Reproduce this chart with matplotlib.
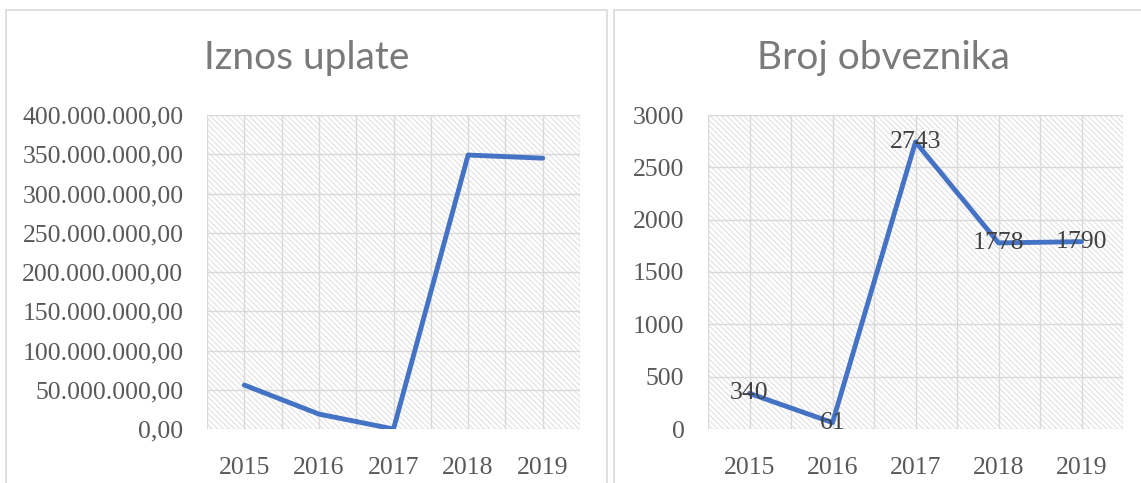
import matplotlib
matplotlib.use("Agg")
import matplotlib.pyplot as plt
from matplotlib.patches import Rectangle
from matplotlib.ticker import FuncFormatter

years = ["2015", "2016", "2017", "2018", "2019"]
iznos_uplate = [56_000_000, 19_000_000, 0, 349_000_000, 345_000_000]
broj_obveznika = [340, 61, 2743, 1778, 1790]

LINE = "#4472C4"
GRID = "#d9d9d9"
TEXT = "#595959"
SERIF = "Liberation Serif"
SANS = "Lato"

plt.rcParams["hatch.linewidth"] = 0.7


def eu_fmt(v, _pos):
    s = f"{v:,.2f}"
    return s.replace(",", "X").replace(".", ",").replace("X", ".")


def style_axes(ax, ymax, ystep):
    x = range(len(years))
    ax.set_xlim(-0.5, len(years) - 0.5)
    ax.set_ylim(0, ymax)
    ax.add_patch(Rectangle((0, 0), 1, 1, transform=ax.transAxes, facecolor="white",
                           edgecolor="#dedede", lw=0, hatch="\\" * 6, zorder=0))
    for gx in [i * 0.5 - 0.5 for i in range(2 * len(years) + 1)]:
        ax.axvline(gx, color=GRID, lw=1.0, zorder=1)
    gy = 0
    while gy <= ymax:
        ax.axhline(gy, color=GRID, lw=1.0, zorder=1)
        gy += ystep
    for s in ax.spines.values():
        s.set_visible(False)
    ax.set_xticks(list(x))
    ax.set_xticklabels(years)
    ax.set_yticks(range(0, ymax + 1, ystep))
    ax.tick_params(length=0, colors=TEXT, labelsize=18.5)
    ax.tick_params(axis="x", pad=20)
    for lab in ax.get_xticklabels() + ax.get_yticklabels():
        lab.set_fontfamily(SERIF)


fig = plt.figure(figsize=(11.41, 4.83), dpi=100)

# chart boxes
fig.add_artist(Rectangle((6 / 1141, -0.05), 601 / 1141, (483 - 10) / 483 + 0.05,
                         transform=fig.transFigure, fill=False, edgecolor=GRID, lw=1.2))
fig.add_artist(Rectangle((614 / 1141, -0.05), 540 / 1141, (483 - 10) / 483 + 0.05,
                         transform=fig.transFigure, fill=False, edgecolor=GRID, lw=1.2))

ax1 = fig.add_axes([207 / 1141, 54 / 483, 373 / 1141, 314 / 483])
style_axes(ax1, 400_000_000, 50_000_000)
ax1.yaxis.set_major_formatter(FuncFormatter(eu_fmt))
ax1.tick_params(axis="y", pad=17)
ax1.plot(range(len(years)), iznos_uplate, color=LINE, lw=3.5, zorder=3, solid_capstyle="round")

ax2 = fig.add_axes([708 / 1141, 54 / 483, 415 / 1141, 314 / 483])
style_axes(ax2, 3000, 500)
ax2.tick_params(axis="y", pad=17)
ax2.plot(range(len(years)), broj_obveznika, color=LINE, lw=3.5, zorder=3, solid_capstyle="round")
for i, v in enumerate(broj_obveznika):
    ax2.text(i, v, str(v), ha="center", va="center", fontsize=18.5, family=SERIF,
             color="#404040", zorder=4)

fig.text(307 / 1141, 1 - 58 / 483, "Iznos uplate", ha="center", va="center",
         fontsize=28, color="#7a7a7a", family=SANS)
fig.text(883 / 1141, 1 - 58 / 483, "Broj obveznika", ha="center", va="center",
         fontsize=28, color="#7a7a7a", family=SANS)

fig.savefig("out.png", dpi=100)
